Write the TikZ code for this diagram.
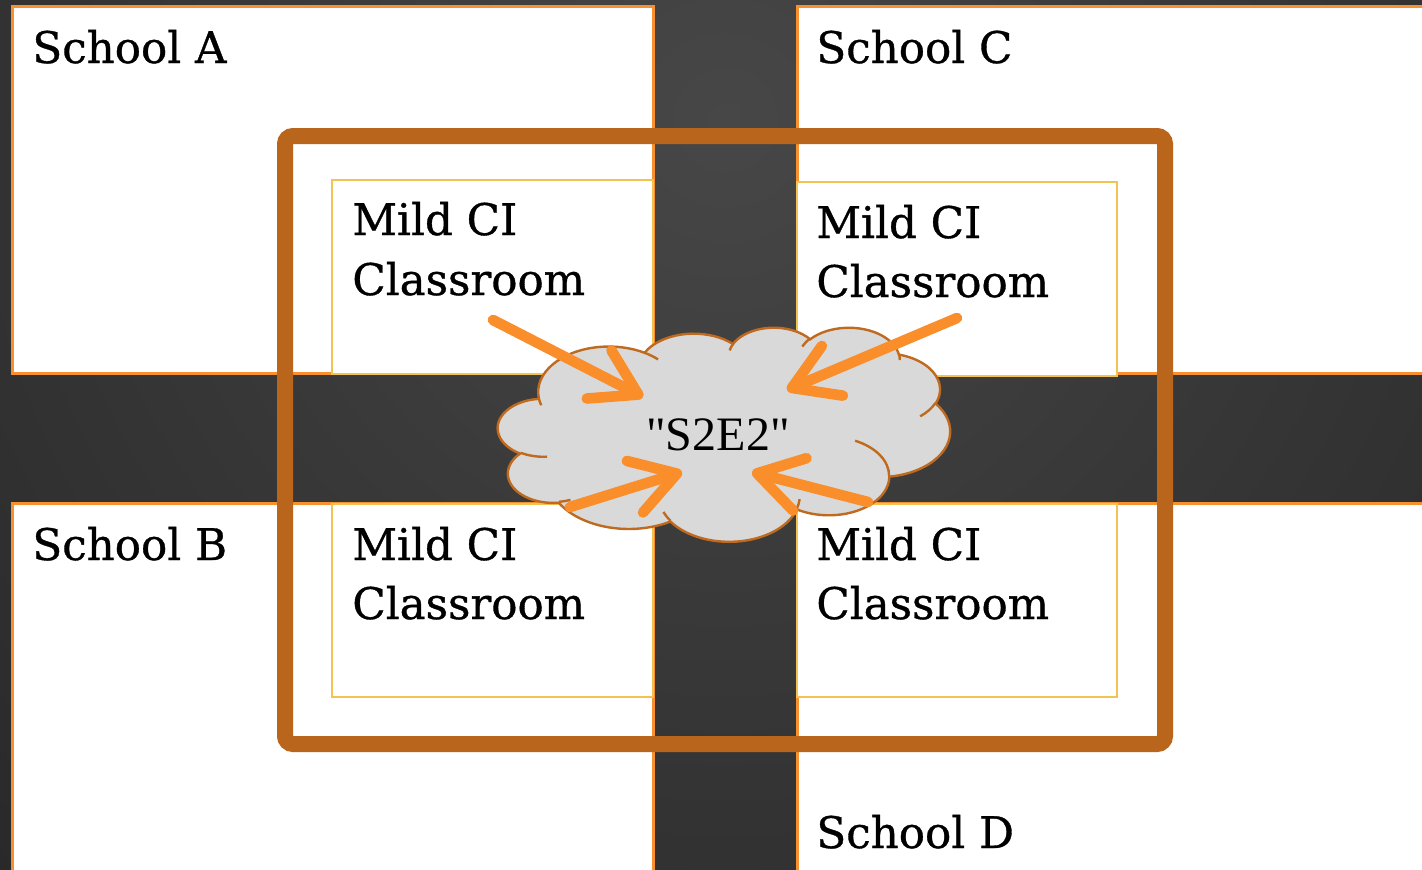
\documentclass[tikz,border=0pt]{standalone}
\usepackage{fontspec}
\setmainfont{DejaVu Serif}[BoldFont={DejaVu Serif}, BoldFeatures={FakeBold=0.8}]
\newfontfamily\cloudfont{Liberation Serif}
\usetikzlibrary{arrows.meta}
\definecolor{bgin}{HTML}{474747}
\definecolor{bgout}{HTML}{1C1C1C}
\definecolor{schoolor}{HTML}{F7902E}
\definecolor{roomy}{HTML}{F2C350}
\definecolor{framebr}{HTML}{B9651B}
\definecolor{cloudbr}{HTML}{BF6A1F}
\definecolor{cloudfill}{HTML}{D9D9D9}
\definecolor{arrowor}{HTML}{F98E2B}
\begin{document}
\begin{tikzpicture}[x=0.5pt,y=-0.5pt,
  school/.style={draw=schoolor, fill=white, line width=1.5pt},
  room/.style={draw=roomy, fill=white, line width=1.2pt},
  bigframe/.style={draw=framebr, line width=8pt, rounded corners=4pt},
  lbl/.style={anchor=base west, inner sep=0pt, font=\fontsize{21.8}{26}\selectfont\bfseries},
  cloudline/.style={draw=cloudbr, line width=1.2pt},
  arr/.style={draw=arrowor, line width=5.3pt, line cap=round,
    -{Straight Barb[length=22pt,width=27pt,line cap=round,line join=round]}}
]
\useasboundingbox (0,0) rectangle (1422,869);
\begin{scope}
  \clip (0,0) rectangle (1422,869);
  \shade[inner color=bgin, outer color=bgout] (725,120) circle (1500);
\end{scope}
% schools
\draw[school] (12,6) rectangle (653,373);
\draw[school] (797,6) rectangle (1440,373);
\draw[school] (12,503) rectangle (653,890);
\draw[school] (797,503) rectangle (1440,890);
% classrooms
\draw[room] (332,180) rectangle (653,374);
\draw[room] (797,182) rectangle (1117,376);
\draw[room] (332,504) rectangle (653,697);
\draw[room] (797,504) rectangle (1117,697);
% frame
\draw[bigframe] (285,136) rectangle (1165,744);
% labels
\node[lbl] (sa) at (32,63) {School A};
\node[lbl] (sc) at (816,63) {School C};
\node[lbl] (sb) at (32,560) {School B};
\node[lbl] (sd) at (816,848) {School D};
\node[lbl] (ra1) at (352,235) {Mild CI};
\node[lbl] (ra2) at (352,295) {Classroom};
\node[lbl] (rc1) at (816,238) {Mild CI};
\node[lbl] (rc2) at (816,297) {Classroom};
\node[lbl] (rb1) at (352,560) {Mild CI};
\node[lbl] (rb2) at (352,619) {Classroom};
\node[lbl] (rd1) at (816,560) {Mild CI};
\node[lbl] (rd2) at (816,619) {Classroom};
% cloud
\begin{scope}[shift={(498,327)}, xscale=1.0463, yscale=0.49537]
\path[cloudline, fill=cloudfill] (39.00,143.70)
  arc[start angle=-187.747, delta angle=128.11, x radius=67.53, y radius=91.90]
  arc[start angle=-152.03, delta angle=106.59, x radius=53.33, y radius=72.67]
  arc[start angle=-153.49, delta angle=116.18, x radius=43.65, y radius=59.45]
  arc[start angle=-139.71, delta angle=129.50, x radius=48.57, y radius=65.95]
  arc[start angle=-74.77, delta angle=97.98, x radius=53.33, y radius=72.73]
  arc[start angle=-37.51, delta angle=119.37, x radius=67.75, y radius=92.20]
  arc[start angle=0.46, delta angle=121.52, x radius=57.85, y radius=78.67]
  arc[start angle=16.84, delta angle=129.38, x radius=67.52, y radius=92.15]
  arc[start angle=58.98, delta angle=91.21, x radius=77.20, y radius=105.43]
  arc[start angle=-276.69, delta angle=139.80, x radius=43.60, y radius=59.18]
  arc[start angle=-239.65, delta angle=143.76, x radius=43.45, y radius=59.45]
  -- cycle;
\path[cloudline]
  (46.93,261.77) arc[start angle=85.55, delta angle=34.80, x radius=43.45, y radius=59.45]
  (69.28,348.99) arc[start angle=68.24, delta angle=15.07, x radius=43.60, y radius=59.18]
  (164.78,390.90) arc[start angle=146.22, delta angle=12.26, x radius=67.52, y radius=92.15]
  (288.27,347.51) arc[start angle=4.74, delta angle=12.10, x radius=67.52, y radius=92.15]
  (341.29,229.54) arc[start angle=-64.03, delta angle=64.49, x radius=57.85, y radius=78.67]
  (417.98,153.54) arc[start angle=23.21, delta angle=26.44, x radius=53.33, y radius=72.73]
  (383.24,54.26) arc[start angle=-10.21, delta angle=11.03, x radius=48.57, y radius=65.95]
  (290.78,39.52) arc[start angle=-156.29, delta angle=16.58, x radius=48.57, y radius=65.95]
  (221.41,47.20) arc[start angle=-167.73, delta angle=14.24, x radius=43.65, y radius=59.45]
  (140.00,51.92) arc[start angle=-59.64, delta angle=13.92, x radius=67.53, y radius=91.90]
  (41.27,157.89) arc[start angle=163.20, delta angle=9.05, x radius=67.53, y radius=91.90];
\end{scope}
\node[inner sep=0pt, font=\cloudfont\fontsize{24}{28}\selectfont] (s2) at (718,435) {"S2E2"};
% arrows
\coordinate (a1s) at (493,320); \coordinate (a1t) at (643,397);
\coordinate (a2s) at (957,318); \coordinate (a2t) at (787,390);
\coordinate (a3s) at (570,507); \coordinate (a3t) at (682,472);
\coordinate (a4s) at (868,502); \coordinate (a4t) at (752,472);
\draw[arr] (a1s) -- (a1t);
\draw[arr] (a2s) -- (a2t);
\draw[arr] (a3s) -- (a3t);
\draw[arr] (a4s) -- (a4t);
\end{tikzpicture}
\end{document}
